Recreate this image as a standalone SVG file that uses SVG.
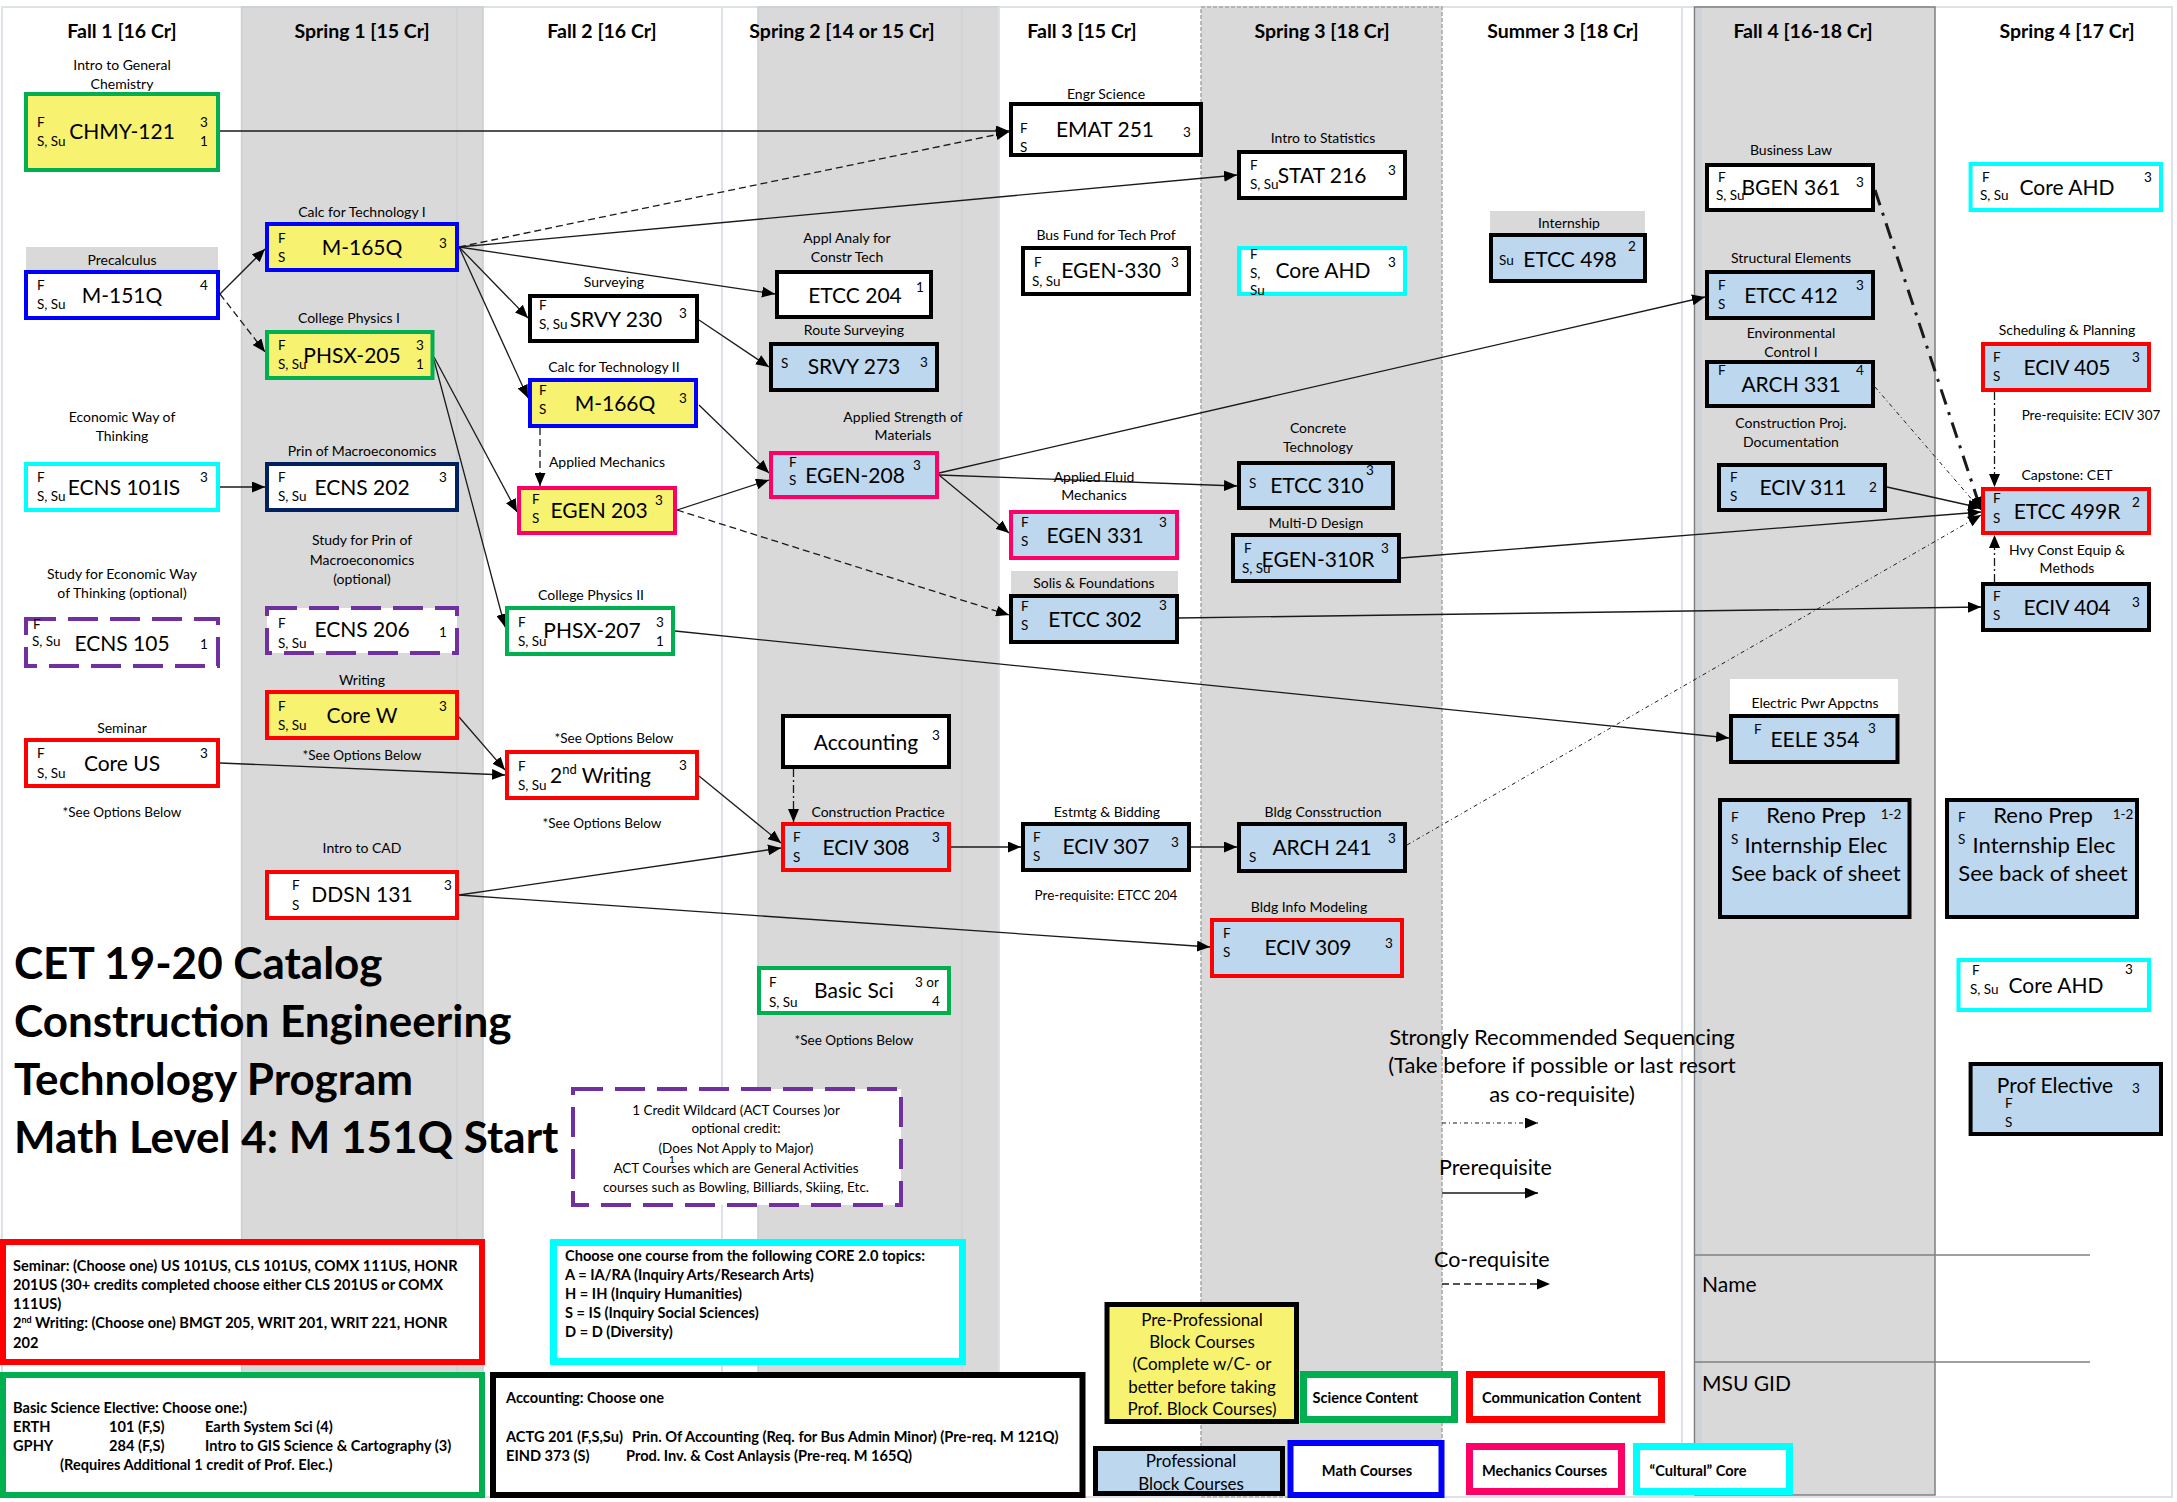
<svg xmlns="http://www.w3.org/2000/svg" width="2177" height="1502" viewBox="0 0 2177 1502">
<defs>
<marker id="ah" viewBox="0 0 13 11" refX="13" refY="5.5" markerWidth="13" markerHeight="11" orient="auto" markerUnits="userSpaceOnUse"><path d="M0,0 L13,5.5 L0,11 z" fill="#000"/></marker>
<style>
text{font-family:Lato,"Liberation Sans",sans-serif;fill:#000}
.h{font-size:19.5px;font-weight:bold;text-anchor:middle}
.tl{font-size:14px;text-anchor:middle}
.fs{font-size:13.5px}
.cr{font-size:13.5px;text-anchor:middle}
.m{font-size:21px;text-anchor:middle}
.nt{font-size:13.5px;text-anchor:middle}
.n{stroke-width:4}
.Y{fill:#F8F271}.B{fill:#BDD7EE}.W{fill:#fff}
.g{stroke:#00B050}.b{stroke:#0000FF}.k{stroke:#000}.r{stroke:#FF0000}.p{stroke:#FF0066}.c{stroke:#00FFFF}.nv{stroke:#002060}
.pu{stroke:#7030A0;stroke-dasharray:30 12}
.e{fill:none;stroke:#1a1a1a;stroke-width:1.3;marker-end:url(#ah)}
.dash{stroke-dasharray:7 4}
.dd{stroke-dasharray:8 3 2 3}
.fd{stroke-width:1;stroke-dasharray:4 3 1 3}
.lb{font-size:14.6px;font-weight:bold}
.big{font-size:44px;font-weight:bold}
.lg{font-size:22px}
.strip{fill:#D9D9D9}
</style>
</defs>
<rect width="2177" height="1502" fill="#fff"/>
<g id="columns">
<rect x="2" y="7" width="2170" height="1490" fill="#fff" stroke="#DDE2E8" stroke-width="2"/>
<rect x="241.6" y="7" width="241.4" height="1490" fill="#D9D9D9" stroke="#C9CED4" stroke-width="1.5"/>
<line x1="457" y1="7" x2="457" y2="1497" stroke="#CDD1D6" stroke-width="1.5"/>
<line x1="722" y1="7" x2="722" y2="1497" stroke="#DDE2E8" stroke-width="2"/>
<rect x="758" y="7" width="241" height="1490" fill="#D9D9D9" stroke="#C9CED4" stroke-width="1.5"/>
<line x1="962" y1="7" x2="962" y2="1497" stroke="#CDD1D6" stroke-width="1.5"/>
<line x1="999" y1="7" x2="999" y2="1497" stroke="#DDE2E8" stroke-width="2"/>
<rect x="1201" y="7" width="241" height="1490" fill="#D9D9D9" stroke="#A6A6A6" stroke-width="1.5" stroke-dasharray="4 2"/>
<line x1="1682" y1="7" x2="1682" y2="1497" stroke="#DDE2E8" stroke-width="2"/>
<rect x="1694.5" y="7" width="240.5" height="1488" fill="#D9D9D9" stroke="#7F7F7F" stroke-width="1.5"/>
<line x1="1699" y1="8" x2="1699" y2="1494" stroke="#CFD3D8" stroke-width="6"/>
<line x1="1694.5" y1="1255" x2="2090" y2="1255" stroke="#7F7F7F" stroke-width="1.5"/>
<line x1="1694.5" y1="1362" x2="2090" y2="1362" stroke="#7F7F7F" stroke-width="1.5"/>
<text class="h" x="122" y="38">Fall  1 [16 Cr]</text>
<text class="h" x="362" y="38">Spring 1 [15 Cr]</text>
<text class="h" x="602" y="38">Fall 2 [16 Cr]</text>
<text class="h" x="842" y="38">Spring 2 [14 or 15 Cr]</text>
<text class="h" x="1082" y="38">Fall 3 [15 Cr]</text>
<text class="h" x="1322" y="38">Spring 3 [18 Cr]</text>
<text class="h" x="1563" y="38">Summer 3 [18 Cr]</text>
<text class="h" x="1803" y="38">Fall 4 [16-18 Cr]</text>
<text class="h" x="2067" y="38">Spring 4 [17 Cr]</text>
</g>
<g id="connectors">
<line class="e" x1="220" y1="131" x2="1009" y2="131"/>
<line class="e" x1="220" y1="294" x2="265" y2="249"/>
<line class="e dash" x1="220" y1="294" x2="265" y2="352"/>
<line class="e" x1="220" y1="487" x2="265" y2="487"/>
<line class="e dash" x1="459" y1="247" x2="1009" y2="132"/>
<line class="e" x1="459" y1="247" x2="1237" y2="175"/>
<line class="e" x1="459" y1="247" x2="775" y2="294"/>
<line class="e" x1="459" y1="247" x2="528" y2="318"/>
<line class="e" x1="459" y1="247" x2="528" y2="398"/>
<line class="e" x1="434" y1="357" x2="517" y2="512"/>
<line class="e" x1="434" y1="360" x2="505" y2="627"/>
<line class="e" x1="699" y1="320" x2="769" y2="367"/>
<line class="e" x1="699" y1="405" x2="769" y2="473"/>
<line class="e dash" x1="540" y1="428" x2="540" y2="486"/>
<line class="e" x1="677" y1="510" x2="769" y2="480"/>
<line class="e dash" x1="677" y1="510" x2="1009" y2="615"/>
<line class="e" x1="939" y1="473" x2="1705" y2="297"/>
<line class="e" x1="939" y1="475" x2="1237" y2="486"/>
<line class="e" x1="939" y1="475" x2="1009" y2="533"/>
<line class="e" x1="675" y1="631" x2="1729" y2="738"/>
<line class="e" x1="459" y1="717" x2="505" y2="770"/>
<line class="e" x1="220" y1="763" x2="505" y2="775"/>
<line class="e" x1="699" y1="776" x2="781" y2="843"/>
<line class="e" x1="459" y1="895" x2="781" y2="848"/>
<line class="e" x1="459" y1="895" x2="1210" y2="947"/>
<line class="e dd" x1="793.5" y1="769" x2="793.5" y2="822"/>
<line class="e" x1="951" y1="847" x2="1021" y2="847"/>
<line class="e" x1="1191" y1="847" x2="1237" y2="847"/>
<line class="e fd" x1="1407" y1="845" x2="1981" y2="515"/>
<line class="e" x1="1401" y1="558" x2="1981" y2="512"/>
<line class="e" x1="1179" y1="618" x2="1981" y2="607"/>
<line class="e" x1="1887" y1="487" x2="1981" y2="508"/>
<line class="e fd" x1="1875" y1="387" x2="1981" y2="510"/>
<line class="e" style="stroke-width:3;stroke-dasharray:16 8 3 8" x1="1875" y1="190" x2="1981" y2="510"/>
<line class="e dd" x1="1994.5" y1="392" x2="1994.5" y2="487"/>
<line class="e dd" x1="1994.5" y1="582" x2="1994.5" y2="535"/>
</g>
<g id="CHMY121">
<text class="tl" x="122" y="70">Intro to General</text><text class="tl" x="122" y="89">Chemistry</text>
<rect class="n Y g" x="26" y="94" width="192" height="76"/>
<text class="fs" x="37" y="127">F</text><text class="fs" x="37" y="146">S, Su</text>
<text class="m" x="122" y="139">CHMY-121</text>
<text class="cr" x="204" y="127">3</text><text class="cr" x="204" y="146">1</text>
</g>
<g id="M151Q">
<rect class="strip" x="26" y="247" width="192" height="23"/>
<text class="tl" x="122" y="265">Precalculus</text>
<rect class="n W b" x="26" y="272" width="192" height="46"/>
<text class="fs" x="37" y="290">F</text><text class="fs" x="37" y="309">S, Su</text>
<text class="m" x="122" y="303">M-151Q</text><text class="cr" x="204" y="290">4</text>
</g>
<g id="M165Q">
<text class="tl" x="362" y="217">Calc for Technology I</text>
<rect class="n Y b" x="267" y="224" width="190" height="46"/>
<text class="fs" x="278" y="243">F</text><text class="fs" x="278" y="262">S</text>
<text class="m" x="362" y="255">M-165Q</text><text class="cr" x="443" y="248">3</text>
</g>
<g id="PHSX205">
<text class="tl" x="349" y="323">College Physics I</text>
<rect class="n Y g" x="267" y="332" width="165.5" height="46"/>
<text class="fs" x="278" y="350">F</text><text class="fs" x="278" y="369">S, Su</text>
<text class="m" x="352" y="363">PHSX-205</text>
<text class="cr" x="420" y="350">3</text><text class="cr" x="420" y="369">1</text>
</g>
<g id="ECNS101IS">
<text class="tl" x="122" y="422">Economic Way of</text><text class="tl" x="122" y="441">Thinking</text>
<rect class="n W c" x="26" y="464" width="192" height="46"/>
<text class="fs" x="37" y="482">F</text><text class="fs" x="37" y="501">S, Su</text>
<text class="m" x="124" y="495">ECNS 101IS</text><text class="cr" x="204" y="482">3</text>
</g>
<g id="ECNS202">
<text class="tl" x="362" y="456">Prin of Macroeconomics</text>
<rect class="n W nv" x="267" y="464" width="190" height="46"/>
<text class="fs" x="278" y="482">F</text><text class="fs" x="278" y="501">S, Su</text>
<text class="m" x="362" y="495">ECNS 202</text><text class="cr" x="443" y="482">3</text>
</g>
<g id="ECNS105">
<text class="tl" x="122" y="579">Study for Economic Way</text><text class="tl" x="122" y="598">of Thinking (optional)</text>
<rect class="n W pu" x="26" y="619" width="192" height="47"/>
<text class="fs" x="33" y="629">F</text><text class="fs" x="32" y="646">S, Su</text>
<text class="m" x="122" y="651">ECNS 105</text><text class="cr" x="204" y="649">1</text>
</g>
<g id="ECNS206">
<text class="tl" x="362" y="545">Study for Prin of</text><text class="tl" x="362" y="565">Macroeconomics</text><text class="tl" x="362" y="584">(optional)</text>
<rect class="n W pu" x="267" y="608" width="190" height="45"/>
<text class="fs" x="278" y="628">F</text><text class="fs" x="278" y="648">S, Su</text>
<text class="m" x="362" y="637">ECNS 206</text><text class="cr" x="443" y="637">1</text>
</g>
<g id="CoreW">
<text class="tl" x="362" y="685">Writing</text>
<rect class="n Y r" x="267" y="692" width="190" height="46"/>
<text class="fs" x="278" y="711">F</text><text class="fs" x="278" y="730">S, Su</text>
<text class="m" x="362" y="723">Core W</text><text class="cr" x="443" y="711">3</text>
<text class="nt" x="362" y="760">*See Options Below</text>
</g>
<g id="CoreUS">
<text class="tl" x="122" y="733">Seminar</text>
<rect class="n W r" x="26" y="740" width="192" height="46"/>
<text class="fs" x="37" y="758">F</text><text class="fs" x="37" y="778">S, Su</text>
<text class="m" x="122" y="771">Core US</text><text class="cr" x="204" y="758">3</text>
<text class="nt" x="122" y="817">*See Options Below</text>
</g>
<g id="DDSN131">
<text class="tl" x="362" y="853">Intro to CAD</text>
<rect class="n W r" x="267" y="872" width="190" height="46"/>
<text class="fs" x="292" y="890">F</text><text class="fs" x="292" y="910">S</text>
<text class="m" x="362" y="902">DDSN 131</text><text class="cr" x="448" y="890">3</text>
</g>
<g id="SRVY230">
<text class="tl" x="614" y="287">Surveying</text>
<rect class="n W k" x="530" y="296" width="167" height="45"/>
<text class="fs" x="539" y="310">F</text><text class="fs" x="539" y="329">S, Su</text>
<text class="m" x="616" y="327">SRVY 230</text><text class="cr" x="683" y="318">3</text>
</g>
<g id="M166Q">
<text class="tl" x="614" y="372">Calc for Technology II</text>
<rect class="n Y b" x="530" y="380" width="166" height="46"/>
<text class="fs" x="539" y="395">F</text><text class="fs" x="539" y="414">S</text>
<text class="m" x="615" y="411">M-166Q</text><text class="cr" x="683" y="403">3</text>
</g>
<g id="EGEN203">
<text class="tl" x="607" y="467">Applied Mechanics</text>
<rect class="n Y p" x="519" y="488" width="156" height="45"/>
<text class="fs" x="532" y="504">F</text><text class="fs" x="532" y="523">S</text>
<text class="m" x="599" y="518">EGEN 203</text><text class="cr" x="659" y="505">3</text>
</g>
<g id="PHSX207">
<text class="tl" x="591" y="600">College Physics II</text>
<rect class="n W g" x="507" y="608" width="166" height="46"/>
<text class="fs" x="518" y="627">F</text><text class="fs" x="518" y="646">S, Su</text>
<text class="m" x="592" y="638">PHSX-207</text>
<text class="cr" x="660" y="627">3</text><text class="cr" x="660" y="646">1</text>
</g>
<g id="Writing2">
<text class="nt" x="614" y="743">*See Options Below</text>
<rect class="n W r" x="507" y="752" width="190" height="46"/>
<text class="fs" x="518" y="771">F</text><text class="fs" x="518" y="790">S, Su</text>
<text x="550" y="783" style="font-size:21px">2<tspan dy="-9" style="font-size:13px">nd</tspan><tspan dy="9"> Writing</tspan></text>
<text class="cr" x="683" y="770">3</text>
<text class="nt" x="602" y="828">*See Options Below</text>
</g>
<g id="ETCC204">
<text class="tl" x="847" y="243">Appl Analy for</text><text class="tl" x="847" y="262">Constr Tech</text>
<rect class="n W k" x="777" y="272" width="154" height="45"/>
<text class="m" x="855" y="303">ETCC 204</text><text class="cr" x="920" y="292">1</text>
</g>
<g id="SRVY273">
<text class="tl" x="854" y="335">Route Surveying</text>
<rect class="n B k" x="771" y="344" width="166" height="46"/>
<text class="fs" x="781" y="368">S</text>
<text class="m" x="854" y="374">SRVY 273</text><text class="cr" x="924" y="367">3</text>
</g>
<g id="EGEN208">
<text class="tl" x="903" y="422">Applied Strength of</text><text class="tl" x="903" y="440">Materials</text>
<rect class="n B p" x="771" y="453" width="166" height="44"/>
<text class="fs" x="789" y="467">F</text><text class="fs" x="789" y="485">S</text>
<text class="m" x="855" y="483">EGEN-208</text><text class="cr" x="917" y="470">3</text>
</g>
<g id="Accounting">
<rect class="n W k" x="783" y="716" width="166" height="51"/>
<text class="m" x="866" y="750">Accounting</text><text class="cr" x="936" y="740">3</text>
</g>
<g id="ECIV308">
<text class="tl" x="878" y="817">Construction Practice</text>
<rect class="n B r" x="783" y="824" width="166" height="46"/>
<text class="fs" x="793" y="842">F</text><text class="fs" x="793" y="862">S</text>
<text class="m" x="866" y="855">ECIV 308</text><text class="cr" x="936" y="842">3</text>
</g>
<g id="BasicSci">
<rect class="n W g" x="759" y="968" width="190" height="45"/>
<text class="fs" x="769" y="987">F</text><text class="fs" x="769" y="1007">S, Su</text>
<text class="m" x="854" y="998">Basic Sci</text>
<text class="fs" x="915" y="987">3 or</text><text class="cr" x="936" y="1006">4</text>
<text class="nt" x="854" y="1045">*See Options Below</text>
</g>
<g id="EMAT251">
<text class="tl" x="1106" y="99">Engr Science</text>
<rect class="n W k" x="1011" y="104" width="190" height="51"/>
<text class="fs" x="1020" y="133">F</text><text class="fs" x="1020" y="152">S</text>
<text class="m" x="1105" y="137">EMAT 251</text><text class="cr" x="1187" y="137">3</text>
</g>
<g id="EGEN330">
<text class="tl" x="1106" y="240">Bus Fund for Tech Prof</text>
<rect class="n W k" x="1023" y="248" width="166" height="46"/>
<text class="fs" x="1034" y="267">F</text><text class="fs" x="1032" y="286">S, Su</text>
<text class="m" x="1111" y="278">EGEN-330</text><text class="cr" x="1175" y="267">3</text>
</g>
<g id="EGEN331">
<text class="tl" x="1094" y="482">Applied Fluid</text><text class="tl" x="1094" y="500">Mechanics</text>
<rect class="n B p" x="1011" y="512" width="166" height="46"/>
<text class="fs" x="1021" y="527">F</text><text class="fs" x="1021" y="546">S</text>
<text class="m" x="1095" y="543">EGEN 331</text><text class="cr" x="1163" y="527">3</text>
</g>
<g id="ETCC302">
<rect class="strip" x="1011" y="571" width="167" height="23"/>
<text class="tl" x="1094" y="588">Solis &amp; Foundations</text>
<rect class="n B k" x="1011" y="596" width="166" height="46"/>
<text class="fs" x="1021" y="611">F</text><text class="fs" x="1021" y="630">S</text>
<text class="m" x="1095" y="627">ETCC 302</text><text class="cr" x="1163" y="610">3</text>
</g>
<g id="ECIV307">
<text class="tl" x="1107" y="817">Estmtg &amp; Bidding</text>
<rect class="n B k" x="1023" y="824" width="166" height="46"/>
<text class="fs" x="1033" y="842">F</text><text class="fs" x="1033" y="861">S</text>
<text class="m" x="1106" y="854">ECIV 307</text><text class="cr" x="1175" y="847">3</text>
<text class="nt" x="1106" y="900">Pre-requisite: ETCC 204</text>
</g>
<g id="STAT216">
<text class="tl" x="1323" y="143">Intro to Statistics</text>
<rect class="n W k" x="1239" y="152" width="166" height="46"/>
<text class="fs" x="1250" y="170">F</text><text class="fs" x="1250" y="189">S, Su</text>
<text class="m" x="1322" y="183">STAT 216</text><text class="cr" x="1392" y="175">3</text>
</g>
<g id="CoreAHD3">
<rect class="n W c" x="1239" y="248" width="166" height="46"/>
<text class="fs" x="1250" y="259">F</text><text class="fs" x="1250" y="278">S,</text><text class="fs" x="1250" y="295">Su</text>
<text class="m" x="1323" y="278">Core AHD</text><text class="cr" x="1392" y="267">3</text>
</g>
<g id="ETCC310">
<text class="tl" x="1318" y="433">Concrete</text><text class="tl" x="1318" y="452">Technology</text>
<rect class="n B k" x="1239" y="463" width="154" height="45"/>
<text class="fs" x="1249" y="488">S</text>
<text class="m" x="1317" y="493">ETCC 310</text><text class="cr" x="1370" y="475">3</text>
</g>
<g id="EGEN310R">
<text class="tl" x="1316" y="528">Multi-D Design</text>
<rect class="n B k" x="1233" y="535" width="166" height="46"/>
<text class="fs" x="1244" y="553">F</text><text class="fs" x="1242" y="573">S, Su</text>
<text class="m" x="1318" y="567">EGEN-310R</text><text class="cr" x="1385" y="553">3</text>
</g>
<g id="ARCH241">
<text class="tl" x="1323" y="817">Bldg Consstruction</text>
<rect class="n B k" x="1239" y="824" width="166" height="47"/>
<text class="fs" x="1249" y="862">S</text>
<text class="m" x="1322" y="855">ARCH 241</text><text class="cr" x="1392" y="843">3</text>
</g>
<g id="ECIV309">
<text class="tl" x="1309" y="912">Bldg Info Modeling</text>
<rect class="n B r" x="1212" y="920" width="190" height="56"/>
<text class="fs" x="1223" y="938">F</text><text class="fs" x="1223" y="957">S</text>
<text class="m" x="1308" y="955">ECIV 309</text><text class="cr" x="1389" y="948">3</text>
</g>
<g id="ETCC498">
<rect class="strip" x="1490" y="211" width="155" height="22"/>
<text class="tl" x="1569" y="228">Internship</text>
<rect class="n B k" x="1491" y="235" width="154" height="46"/>
<text class="fs" x="1499" y="265">Su</text>
<text class="m" x="1570" y="267">ETCC 498</text><text class="cr" x="1632" y="251">2</text>
</g>
<g id="BGEN361">
<text class="tl" x="1791" y="155">Business Law</text>
<rect class="n W k" x="1707" y="165" width="166" height="45"/>
<text class="fs" x="1718" y="182">F</text><text class="fs" x="1716" y="200">S, Su</text>
<text class="m" x="1791" y="195">BGEN 361</text><text class="cr" x="1860" y="187">3</text>
</g>
<g id="ETCC412">
<text class="tl" x="1791" y="263">Structural Elements</text>
<rect class="n B k" x="1707" y="272" width="166" height="46"/>
<text class="fs" x="1718" y="290">F</text><text class="fs" x="1718" y="309">S</text>
<text class="m" x="1791" y="303">ETCC 412</text><text class="cr" x="1860" y="290">3</text>
</g>
<g id="ARCH331">
<text class="tl" x="1791" y="338">Environmental</text><text class="tl" x="1791" y="357">Control I</text>
<rect class="n B k" x="1707" y="362" width="166" height="44"/>
<text class="fs" x="1718" y="375">F</text>
<text class="m" x="1791" y="392">ARCH 331</text><text class="cr" x="1860" y="375">4</text>
</g>
<g id="ECIV311">
<text class="tl" x="1791" y="428">Construction Proj.</text><text class="tl" x="1791" y="447">Documentation</text>
<rect class="n B k" x="1719" y="465" width="166" height="45"/>
<text class="fs" x="1730" y="482">F</text><text class="fs" x="1730" y="501">S</text>
<text class="m" x="1803" y="495">ECIV 311</text><text class="cr" x="1873" y="492">2</text>
</g>
<g id="EELE354">
<rect x="1730" y="679" width="168" height="35" fill="#fff"/>
<text class="tl" x="1815" y="708">Electric Pwr Appctns</text>
<rect class="n B k" x="1731" y="716" width="166.5" height="46"/>
<text class="fs" x="1754" y="734">F</text>
<text class="m" x="1815" y="747">EELE 354</text><text class="cr" x="1872" y="733">3</text>
</g>
<g id="RenoPrep4F">
<rect class="n B k" x="1720" y="800" width="189.5" height="117"/>
<text class="fs" x="1731" y="822">F</text><text class="fs" x="1731" y="844">S</text>
<text class="m" x="1816" y="823" style="font-size:22px">Reno Prep</text><text class="cr" x="1891" y="819">1-2</text>
<text class="m" x="1816" y="853" style="font-size:22px">Internship Elec</text>
<text class="m" x="1816" y="881" style="font-size:22px">See back of sheet</text>
</g>
<g id="RenoPrep4S">
<rect class="n B k" x="1947" y="800" width="190" height="117"/>
<text class="fs" x="1958" y="822">F</text><text class="fs" x="1958" y="844">S</text>
<text class="m" x="2043" y="823" style="font-size:22px">Reno Prep</text><text class="cr" x="2123" y="819">1-2</text>
<text class="m" x="2044" y="853" style="font-size:22px">Internship Elec</text>
<text class="m" x="2043" y="881" style="font-size:22px">See back of sheet</text>
</g>
<g id="CoreAHD4a">
<rect class="n W c" x="1970.6" y="164" width="190.4" height="46"/>
<text class="fs" x="1982" y="182">F</text><text class="fs" x="1980" y="200">S, Su</text>
<text class="m" x="2067" y="195">Core AHD</text><text class="cr" x="2148" y="182">3</text>
</g>
<g id="ECIV405">
<text class="tl" x="2067" y="335">Scheduling &amp; Planning</text>
<rect class="n B r" x="1983" y="344" width="166" height="46"/>
<text class="fs" x="1993" y="362">F</text><text class="fs" x="1993" y="381">S</text>
<text class="m" x="2067" y="375">ECIV 405</text><text class="cr" x="2136" y="362">3</text>
<text class="nt" x="2091" y="420">Pre-requisite: ECIV 307</text>
</g>
<g id="ETCC499R">
<text class="tl" x="2067" y="480">Capstone: CET</text>
<rect class="n B r" x="1983" y="489" width="166" height="44"/>
<text class="fs" x="1993" y="503">F</text><text class="fs" x="1993" y="523">S</text>
<text class="m" x="2067" y="519">ETCC 499R</text><text class="cr" x="2136" y="507">2</text>
<text class="tl" x="2067" y="555">Hvy Const Equip &amp;</text><text class="tl" x="2067" y="573">Methods</text>
</g>
<g id="ECIV404">
<rect class="n B k" x="1983" y="584" width="166" height="46"/>
<text class="fs" x="1993" y="601">F</text><text class="fs" x="1993" y="620">S</text>
<text class="m" x="2067" y="615">ECIV 404</text><text class="cr" x="2136" y="607">3</text>
</g>
<g id="CoreAHD4b">
<rect class="n W c" x="1958.5" y="960" width="190.5" height="50"/>
<text class="fs" x="1972" y="975">F</text><text class="fs" x="1970" y="994">S, Su</text>
<text class="m" x="2056" y="993">Core AHD</text><text class="cr" x="2129" y="974">3</text>
</g>
<g id="ProfElective">
<rect class="n B k" x="1970.6" y="1064" width="190.4" height="70"/>
<text class="m" x="2055" y="1093">Prof Elective</text><text class="cr" x="2136" y="1093">3</text>
<text class="fs" x="2005" y="1108">F</text><text class="fs" x="2005" y="1127">S</text>
</g>
<g id="title">
<text class="big" x="14" y="979">CET 19-20 Catalog</text>
<text class="big" x="14" y="1037">Construction Engineering</text>
<text class="big" x="14" y="1095">Technology Program</text>
<text class="big" x="14" y="1153">Math Level 4: M 151Q Start</text>
</g>
<g id="notes">
<rect x="573" y="1089" width="328" height="116" fill="#fff" stroke="#7030A0" stroke-width="4" stroke-dasharray="30 12"/>
<text class="nt" x="736" y="1115">1 Credit Wildcard (ACT Courses )or</text>
<text class="nt" x="736" y="1133">optional credit:</text>
<text class="nt" x="736" y="1153">(Does Not Apply to Major)</text>
<text class="nt" x="736" y="1173">ACT Courses which are General Activities</text>
<text class="nt" x="736" y="1192">courses such as Bowling, Billiards, Skiing, Etc.</text>
<text x="669" y="1163" style="font-size:10px">1</text>
<rect x="3" y="1242" width="479" height="120" fill="#fff" stroke="#FF0000" stroke-width="6"/>
<text class="lb" x="13" y="1271">Seminar: (Choose one) US 101US, CLS 101US, COMX 111US, HONR</text>
<text class="lb" x="13" y="1290">201US (30+ credits completed choose either CLS 201US or COMX</text>
<text class="lb" x="13" y="1309">111US)</text>
<text class="lb" x="13" y="1328">2<tspan dy="-5" style="font-size:9px">nd</tspan><tspan dy="5"> Writing: (Choose one) BMGT 205, WRIT 201, WRIT 221, HONR</tspan></text>
<text class="lb" x="13" y="1348">202</text>
<rect x="3" y="1375" width="479" height="120" fill="#fff" stroke="#00B050" stroke-width="6"/>
<text class="lb" x="13" y="1413">Basic Science Elective: Choose one:)</text>
<text class="lb" x="13" y="1432">ERTH</text><text class="lb" x="109" y="1432">101 (F,S)</text><text class="lb" x="205" y="1432">Earth System Sci (4)</text>
<text class="lb" x="13" y="1451">GPHY</text><text class="lb" x="109" y="1451">284 (F,S)</text><text class="lb" x="205" y="1451">Intro to GIS Science &amp; Cartography (3)</text>
<text class="lb" x="60" y="1470">(Requires Additional 1 credit of Prof. Elec.)</text>
<rect x="493" y="1375" width="589.5" height="120" fill="#fff" stroke="#000" stroke-width="6"/>
<text class="lb" x="506" y="1403">Accounting: Choose one</text>
<text class="lb" x="506" y="1442">ACTG 201 (F,S,Su)</text><text class="lb" x="632" y="1442">Prin. Of Accounting (Req. for Bus Admin Minor) (Pre-req. M 121Q)</text>
<text class="lb" x="506" y="1461">EIND 373 (S)</text><text class="lb" x="626" y="1461">Prod. Inv. &amp; Cost Anlaysis (Pre-req. M 165Q)</text>
<rect x="553.5" y="1242.5" width="409" height="119" fill="#fff" stroke="#00FFFF" stroke-width="7"/>
<text class="lb" x="565" y="1261">Choose one course from the following CORE 2.0 topics:</text>
<text class="lb" x="565" y="1280">A = IA/RA (Inquiry Arts/Research Arts)</text>
<text class="lb" x="565" y="1299">H = IH  (Inquiry Humanities)</text>
<text class="lb" x="565" y="1318">S = IS  (Inquiry Social Sciences)</text>
<text class="lb" x="565" y="1337">D = D (Diversity)</text>
</g>
<g id="legend">
<text class="lg" x="1562" y="1045" text-anchor="middle">Strongly Recommended Sequencing</text>
<text class="lg" x="1562" y="1073" text-anchor="middle">(Take before if possible or last resort</text>
<text class="lg" x="1562" y="1102" text-anchor="middle">as co-requisite)</text>
<line class="e fd" x1="1442" y1="1123" x2="1538" y2="1123"/>
<text x="1439" y="1175" style="font-size:21.5px">Prerequisite</text>
<line class="e" x1="1442" y1="1193" x2="1538" y2="1193"/>
<text x="1434" y="1267" style="font-size:21.5px">Co-requisite</text>
<line class="e dash" x1="1442" y1="1284" x2="1550" y2="1284"/>
<rect x="1107" y="1304.5" width="189.5" height="117" fill="#F8F271" stroke="#000" stroke-width="5"/>
<text x="1202" y="1326" text-anchor="middle" style="font-size:17px">Pre-Professional</text>
<text x="1202" y="1348" text-anchor="middle" style="font-size:17px">Block Courses</text>
<text x="1202" y="1370" text-anchor="middle" style="font-size:17px">(Complete w/C- or</text>
<text x="1202" y="1393" text-anchor="middle" style="font-size:17px">better before taking</text>
<text x="1202" y="1415" text-anchor="middle" style="font-size:17px">Prof. Block Courses)</text>
<rect x="1095.5" y="1448.5" width="187" height="45" fill="#BDD7EE" stroke="#000" stroke-width="5"/>
<text x="1191" y="1467" text-anchor="middle" style="font-size:17px">Professional</text>
<text x="1191" y="1490" text-anchor="middle" style="font-size:17px">Block Courses</text>
<rect x="1303.5" y="1374.5" width="151" height="45" fill="#fff" stroke="#00B050" stroke-width="7"/>
<text class="lb" x="1312.5" y="1403">Science Content</text>
<rect x="1290.5" y="1443" width="151" height="52" fill="#fff" stroke="#0000FF" stroke-width="6"/>
<text class="lb" x="1367" y="1476" text-anchor="middle">Math Courses</text>
<rect x="1469.5" y="1374.5" width="192" height="45" fill="#fff" stroke="#FF0000" stroke-width="7"/>
<text class="lb" x="1482" y="1403">Communication Content</text>
<rect x="1469.5" y="1446.5" width="152" height="45" fill="#fff" stroke="#FF0066" stroke-width="7"/>
<text class="lb" x="1482" y="1476">Mechanics Courses</text>
<rect x="1636.5" y="1446.5" width="153" height="45" fill="#fff" stroke="#00FFFF" stroke-width="7"/>
<text class="lb" x="1649.5" y="1476">“Cultural”  Core</text>
<text x="1702" y="1292" style="font-size:21px">Name</text>
<text x="1702" y="1391" style="font-size:21px">MSU GID</text>
</g>
</svg>
